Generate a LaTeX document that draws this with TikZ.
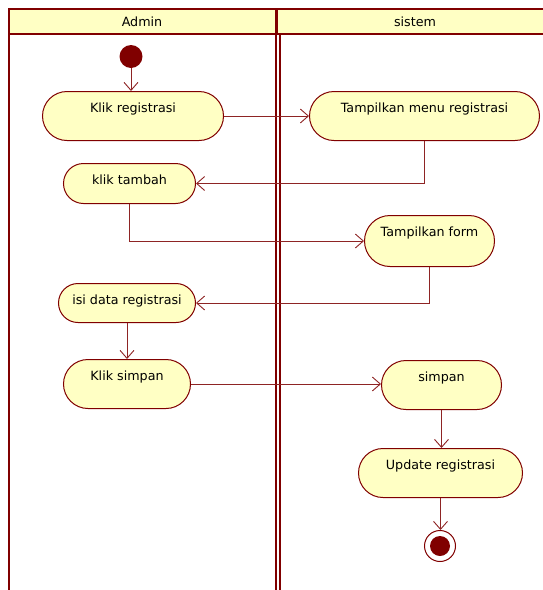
\documentclass[tikz,border=0pt]{standalone}
\usepackage{fontspec}
\setmainfont{DejaVu Sans}
\usetikzlibrary{arrows.meta}
\definecolor{umlred}{HTML}{800000}
\definecolor{umlline}{HTML}{8E2424}
\definecolor{umlfill}{HTML}{FFFFC4}
\begin{document}
\begin{tikzpicture}[x=1pt,y=-1pt,
  txt/.style={font=\fontsize{12.7}{15}\selectfont, text=black},
  act/.style={txt, draw=umlred, fill=umlfill, line width=1pt, inner xsep=0pt, inner ysep=0pt,
    text height=20.5pt, anchor=north west},
  flow/.style={draw=umlline, line width=0.9pt, -{Straight Barb[length=8pt,width=14pt,line width=0.9pt]}},
  lane/.style={draw=umlred, line width=2.4pt}]
\useasboundingbox (0,0) rectangle (543,590);
% swimlane frame
\fill[umlfill] (9,9) rectangle (560,34);
\draw[lane] (560,9) -- (9,9) -- (9,600);
\draw[lane] (9,34) -- (560,34);
\draw[lane] (276.5,9) -- (276.5,34);
\draw[umlred, line width=2pt] (276,34) -- (276,600);
\draw[umlred, line width=2pt] (279.5,34) -- (279.5,600);
\node[txt] (hadmin) at (142,22) {Admin};
\node[txt] (hsistem) at (415,22) {sistem};
% start / end
\node[circle, fill=umlred, minimum size=23pt, inner sep=0pt] (start) at (131,56.5) {};
\node[circle, draw=umlred, line width=1pt, fill=white, minimum size=31pt, inner sep=0pt] (stop) at (440,546) {};
\node[circle, fill=umlred, minimum size=20pt, inner sep=0pt] (stopin) at (stop.center) {};
% activities
\node[act, minimum width=181pt, text depth=28.5pt, rounded corners=24.5pt] (kr) at (42,91) {Klik registrasi};
\node[act, minimum width=230pt, text depth=28.5pt, rounded corners=24.5pt] (tm) at (309,91) {Tampilkan menu registrasi};
\node[act, minimum width=132pt, text depth=19.5pt, rounded corners=20pt] (kt) at (63,163) {klik tambah};
\node[act, minimum width=130pt, text depth=30.5pt, rounded corners=25.5pt] (tf) at (364,215) {Tampilkan form};
\node[act, minimum width=137pt, text depth=18.5pt, rounded corners=19.5pt] (id) at (58,283) {isi data registrasi};
\node[act, minimum width=127pt, text depth=28.5pt, rounded corners=24.5pt] (ks) at (63,359) {Klik simpan};
\node[act, minimum width=120pt, text depth=28.5pt, rounded corners=24.5pt] (sp) at (381,360) {simpan};
\node[act, minimum width=164pt, text depth=28.5pt, rounded corners=24.5pt] (ur) at (358,448) {Update registrasi};
% flows
\draw[flow] (start.south) -- (start.south |- kr.north);
\draw[flow] (kr.east) -- (tm.west);
\draw[flow] (tm.south) |- (kt.east);
\draw[flow] (kt.south) |- (tf.west);
\draw[flow] (tf.south) |- (id.east);
\draw[flow] (id.south) -- (id.south |- ks.north);
\draw[flow] (ks.east) -- (ks.east -| sp.west);
\draw[flow] (sp.south) -- (sp.south |- ur.north);
\draw[flow] (ur.south) -- (ur.south |- stop.north);
\end{tikzpicture}
\end{document}
